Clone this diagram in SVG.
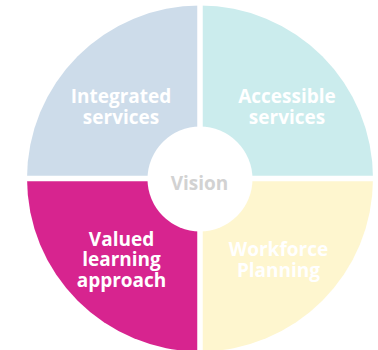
<svg xmlns="http://www.w3.org/2000/svg" width="378" height="350" viewBox="0 0 378 350">
<style>
.lbl{font-family:"Open Sans","Liberation Sans",sans-serif;font-weight:700;font-size:19px;fill:#ffffff;text-anchor:middle}
.ctr{font-family:"Open Sans","Liberation Sans",sans-serif;font-weight:700;font-size:19px;fill:#d2d2d2;text-anchor:middle}
</style>
<rect width="378" height="350" fill="#ffffff"/>
<g id="integrated">
<path d="M200,178.5 L27,178.5 A173,173 0 0 1 200,5.5 Z" fill="#cddcea"/>
<text class="lbl" x="121" y="102.7">Integrated</text>
<text class="lbl" x="121" y="124.3">services</text>
</g>
<g id="accessible">
<path d="M200,178.5 L200,5.5 A173,173 0 0 1 373,178.5 Z" fill="#cbeced"/>
<text class="lbl" x="287" y="102.7">Accessible</text>
<text class="lbl" x="287" y="124.3">services</text>
</g>
<g id="workforce">
<path d="M200,178.5 L373,178.5 A173,173 0 0 1 200,351.5 Z" fill="#fef6cf"/>
<text class="lbl" x="278.5" y="256">Workforce</text>
<text class="lbl" x="278.5" y="276.7">Planning</text>
</g>
<g id="valued">
<path d="M200,178.5 L200,351.5 A173,173 0 0 1 27,178.5 Z" fill="#d7248f"/>
<text class="lbl" x="121.5" y="245.7">Valued</text>
<text class="lbl" x="121.5" y="265.5">learning</text>
<text class="lbl" x="121.5" y="286.5">approach</text>
</g>
<g id="connectors">
<line x1="200" y1="0" x2="200" y2="350" stroke="#ffffff" stroke-width="5.5"/>
<line x1="20" y1="178.5" x2="378" y2="178.5" stroke="#ffffff" stroke-width="5.5"/>
</g>
<g id="vision">
<circle cx="200" cy="179" r="52.5" fill="#ffffff"/>
<text class="ctr" x="199.5" y="190">Vision</text>
</g>
</svg>
